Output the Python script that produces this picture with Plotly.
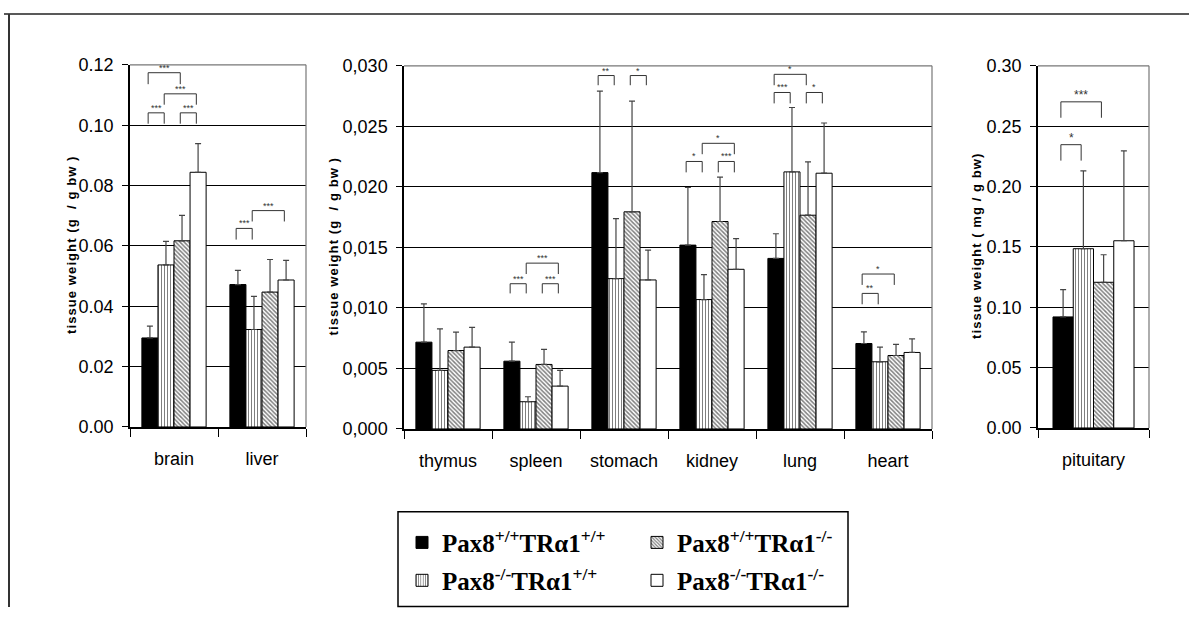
import plotly.graph_objects as go

W, H = 1189, 617

# ---------------- data ----------------
series_names = [
    "Pax8<sup>+/+</sup>TRα1<sup>+/+</sup>",
    "Pax8<sup>-/-</sup>TRα1<sup>+/+</sup>",
    "Pax8<sup>+/+</sup>TRα1<sup>-/-</sup>",
    "Pax8<sup>-/-</sup>TRα1<sup>-/-</sup>",
]

cats1 = ["brain", "liver"]
cats2 = ["thymus", "spleen", "stomach", "kidney", "lung", "heart"]
cats3 = ["pituitary"]

p1_black = [0.0295, 0.0472]
p1_vert = [0.0537, 0.0323]
p1_hatch = [0.0617, 0.0447]
p1_white = [0.0844, 0.0487]
p1_black_err = [0.0039, 0.0047]
p1_vert_err = [0.0078, 0.0110]
p1_hatch_err = [0.0084, 0.0108]
p1_white_err = [0.0095, 0.0065]

p2_black = [0.00717, 0.00560, 0.02118, 0.01519, 0.01409, 0.00706]
p2_vert = [0.00484, 0.00225, 0.01242, 0.01069, 0.02124, 0.00555]
p2_hatch = [0.00648, 0.00533, 0.01794, 0.01714, 0.01766, 0.00607]
p2_white = [0.00676, 0.00354, 0.01231, 0.01319, 0.02113, 0.00632]
p2_black_err = [0.00316, 0.00157, 0.00673, 0.00476, 0.00204, 0.00096]
p2_vert_err = [0.00343, 0.00041, 0.00495, 0.00206, 0.00532, 0.00121]
p2_hatch_err = [0.00152, 0.00124, 0.00915, 0.00366, 0.00440, 0.00091]
p2_white_err = [0.00164, 0.00130, 0.00247, 0.00253, 0.00415, 0.00112]

p3_black = [0.0920]
p3_vert = [0.1485]
p3_hatch = [0.1207]
p3_white = [0.1551]
p3_black_err = [0.0226]
p3_vert_err = [0.0645]
p3_hatch_err = [0.0228]
p3_white_err = [0.0744]

y1_ticks = [0.00, 0.02, 0.04, 0.06, 0.08, 0.10, 0.12]
y2_ticks = [0.000, 0.005, 0.010, 0.015, 0.020, 0.025, 0.030]
y2_ticktext = ["0,000", "0,005", "0,010", "0,015", "0,020", "0,025", "0,030"]
y3_ticks = [0.00, 0.05, 0.10, 0.15, 0.20, 0.25, 0.30]

# significance brackets: panel, category index, bar a, bar b, top, leg bottom, label
brackets = [
    (1, 0, 0, 2, 0.1174, 0.1136, "***"),
    (1, 0, 1, 3, 0.1104, 0.1068, "***"),
    (1, 0, 0, 1, 0.1041, 0.1005, "***"),
    (1, 0, 2, 3, 0.1041, 0.1005, "***"),
    (1, 1, 0, 1, 0.0658, 0.0621, "***"),
    (1, 1, 1, 3, 0.0717, 0.0681, "***"),
    (2, 1, 0, 1, 0.0120, 0.0112, "***"),
    (2, 1, 2, 3, 0.0120, 0.0112, "***"),
    (2, 1, 1, 3, 0.0137, 0.0128, "***"),
    (2, 2, 0, 1, 0.0292, 0.0284, "**"),
    (2, 2, 2, 3, 0.0292, 0.0284, "*"),
    (2, 3, 0, 1, 0.0221, 0.0212, "*"),
    (2, 3, 2, 3, 0.0221, 0.0212, "***"),
    (2, 3, 1, 3, 0.0236, 0.0227, "*"),
    (2, 4, 0, 1, 0.0278, 0.0269, "***"),
    (2, 4, 2, 3, 0.0278, 0.0269, "*"),
    (2, 4, 0, 2, 0.0293, 0.0284, "*"),
    (2, 5, 0, 1, 0.0112, 0.0103, "**"),
    (2, 5, 0, 2, 0.0128, 0.0119, "*"),
    (3, 0, 0, 1, 0.2347, 0.2215, "*"),
    (3, 0, 0, 2, 0.2702, 0.2570, "***"),
]

# ---------------- styling / layout ----------------
BARGAP = 0.27
TICKFONT = "Liberation Sans, Arial"
# the photographed page maps figure-y to screen-y as  8 + 0.97*y ; compensate
Y_OFF, Y_SCALE = 8.0, 0.970


def px_x(p):
    return p / W


def px_y(p):
    q = (p - Y_OFF) / Y_SCALE
    q = min(max(q, 0.0), H - 0.5)
    return 1 - q / H


panel_cats = {1: cats1, 2: cats2, 3: cats3}
panel_means = {
    1: [p1_black, p1_vert, p1_hatch, p1_white],
    2: [p2_black, p2_vert, p2_hatch, p2_white],
    3: [p3_black, p3_vert, p3_hatch, p3_white],
}
panel_errs = {
    1: [p1_black_err, p1_vert_err, p1_hatch_err, p1_white_err],
    2: [p2_black_err, p2_vert_err, p2_hatch_err, p2_white_err],
    3: [p3_black_err, p3_vert_err, p3_hatch_err, p3_white_err],
}
axis_suffix = {1: "", 2: "2", 3: "3"}

markers = [
    dict(color="black", line=dict(color="black", width=1)),
    dict(color="white", line=dict(color="black", width=1),
         pattern=dict(shape="|", fgcolor="black", bgcolor="white", size=3, solidity=0.35)),
    dict(color="white", line=dict(color="black", width=1),
         pattern=dict(shape="\\", fgcolor="black", bgcolor="white", size=3, solidity=0.5)),
    dict(color="white", line=dict(color="black", width=1)),
]

fig = go.Figure()
for s in range(4):
    for p in (1, 2, 3):
        fig.add_trace(go.Bar(
            x=panel_cats[p], y=panel_means[p][s],
            name=series_names[s], legendgroup=str(s), showlegend=(p == 1),
            legend="legend" if s in (0, 2) else "legend2",
            marker=markers[s],
            error_y=dict(type="data", symmetric=False, array=panel_errs[p][s],
                         arrayminus=[0] * len(panel_errs[p][s]),
                         color="#444", thickness=1.2, width=3),
            xaxis="x" + axis_suffix[p], yaxis="y" + axis_suffix[p],
            hoverinfo="skip",
        ))

geom = {
    1: dict(x0=130, x1=306, y0=63, y1=426),
    2: dict(x0=404, x1=932, y0=64, y1=428),
    3: dict(x0=1038, x1=1149, y0=64, y1=427),
}


def xaxis_cfg(p):
    g = geom[p]
    n = len(panel_cats[p])
    return dict(domain=[px_x(g["x0"]), px_x(g["x1"])], anchor="y" + axis_suffix[p],
                type="category", range=[-0.5, n - 0.5], tickson="boundaries",
                ticks="outside", ticklen=8, tickcolor="black", tickwidth=1,
                showline=True, linecolor="black", linewidth=1.5, tickangle=0,
                showgrid=False, zeroline=False, ticklabelstandoff=15,
                tickfont=dict(family=TICKFONT, size=18, color="black"))


def yaxis_cfg(p, rng, ticks, ticktext=None, fmt=None):
    g = geom[p]
    d = dict(domain=[px_y(g["y1"]), px_y(g["y0"])], anchor="x" + axis_suffix[p],
             range=rng, tickmode="array", tickvals=ticks,
             ticks="outside", ticklen=6, tickcolor="black",
             showline=True, linecolor="black", linewidth=1.5,
             showgrid=True, gridcolor="black", gridwidth=1, zeroline=False,
             ticklabelstandoff=5,
             tickfont=dict(family=TICKFONT, size=18, color="black"))
    if ticktext is not None:
        d["ticktext"] = ticktext
    if fmt is not None:
        d["tickformat"] = fmt
    return d


legend_font = dict(family="Liberation Serif, Times New Roman, serif", size=25,
                   color="black", weight="bold")

fig.update_layout(
    width=W, height=H, margin=dict(l=0, r=0, t=0, b=0),
    paper_bgcolor="white", plot_bgcolor="white",
    barmode="group", bargap=BARGAP, bargroupgap=0,
    xaxis=xaxis_cfg(1), xaxis2=xaxis_cfg(2), xaxis3=xaxis_cfg(3),
    yaxis=yaxis_cfg(1, [0, 0.12], y1_ticks, fmt=".2f"),
    yaxis2=yaxis_cfg(2, [0, 0.030], y2_ticks, ticktext=y2_ticktext),
    yaxis3=yaxis_cfg(3, [0, 0.30], y3_ticks, fmt=".2f"),
    legend=dict(x=px_x(402), y=px_y(542), xanchor="left", yanchor="middle",
                orientation="h", entrywidth=190, itemwidth=30, font=legend_font,
                bgcolor="rgba(0,0,0,0)", borderwidth=0),
    legend2=dict(x=px_x(402), y=px_y(580), xanchor="left", yanchor="middle",
                 orientation="h", entrywidth=190, itemwidth=30, font=legend_font,
                 bgcolor="rgba(0,0,0,0)", borderwidth=0),
    font=dict(family="Liberation Sans, Arial", color="black"),
)

shapes = []
annotations = []

# grey top/right borders of each plot area
for p in (1, 2, 3):
    xr = "x" + axis_suffix[p] + " domain"
    yr = "y" + axis_suffix[p] + " domain"
    shapes.append(dict(type="line", xref=xr, yref=yr, x0=0, x1=1, y0=1, y1=1,
                       line=dict(color="#777", width=1.2), layer="above"))
    shapes.append(dict(type="line", xref=xr, yref=yr, x0=1, x1=1, y0=0, y1=1,
                       line=dict(color="#777", width=1.2), layer="above"))

# outer frame (top and left)
shapes.append(dict(type="line", xref="paper", yref="paper", x0=px_x(4), x1=1,
                   y0=px_y(12), y1=px_y(12), line=dict(color="#222", width=1.5)))
shapes.append(dict(type="line", xref="paper", yref="paper", x0=px_x(9), x1=px_x(9),
                   y0=px_y(12), y1=0, line=dict(color="#333", width=2)))

# legend box
shapes.append(dict(type="rect", xref="paper", yref="paper", x0=px_x(398), x1=px_x(848),
                   y0=px_y(609), y1=px_y(511), line=dict(color="black", width=1.5)))

w = (1 - BARGAP) / 4


def bar_center(ci, bi):
    return ci - (1 - BARGAP) / 2 + w * (bi + 0.5)


for (p, ci, a, b, top, bottom, lab) in brackets:
    xr = "x" + axis_suffix[p]
    yr = "y" + axis_suffix[p]
    xa = bar_center(ci, a) - 0.02
    xb = bar_center(ci, b) - 0.02
    ln = dict(color="#333", width=1)
    shapes.append(dict(type="line", xref=xr, yref=yr, x0=xa, x1=xa, y0=bottom, y1=top, line=ln))
    shapes.append(dict(type="line", xref=xr, yref=yr, x0=xa, x1=xb, y0=top, y1=top, line=ln))
    shapes.append(dict(type="line", xref=xr, yref=yr, x0=xb, x1=xb, y0=bottom, y1=top, line=ln))
    annotations.append(dict(xref=xr, yref=yr, x=(xa + xb) / 2, y=top, text=lab,
                            showarrow=False, yanchor="bottom", yshift=-2,
                            font=dict(size=12 if p == 3 else 9, color="#333",
                                      family="Liberation Sans, Arial")))


def spaced(t):
    return "\u200a".join(t)


ytitles = [
    (72, (63 + 426) / 2, "tissue weight (g  / g bw )"),
    (333, (64 + 428) / 2, "tissue weight (g  / g bw )"),
    (977, (64 + 427) / 2, "tissue weight ( mg / g bw)"),
]
for (xp, yp, t) in ytitles:
    annotations.append(dict(xref="paper", yref="paper", x=px_x(xp), y=px_y(yp),
                            text=spaced(t), textangle=-90, showarrow=False,
                            xanchor="center", yanchor="middle",
                            font=dict(size=13, weight="bold", color="black",
                                      family="Liberation Sans, Arial")))

fig.update_layout(shapes=shapes, annotations=annotations)

fig.write_html("out.html")
